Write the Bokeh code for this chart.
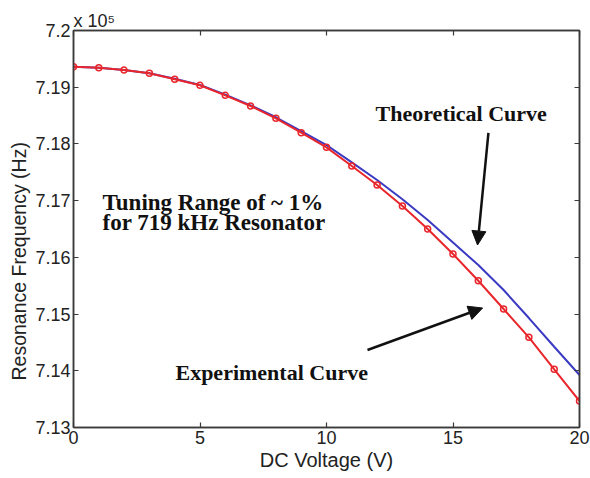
from bokeh.plotting import figure
from bokeh.models import (LinearAxis, FixedTicker, CustomJSTickFormatter, Label, Title,
                          Arrow, NormalHead, Range1d, ColumnDataSource)
from bokeh.embed import file_html
from bokeh.resources import INLINE

# Data (frequency in units of 1e5 Hz)
voltage = [0, 1, 2, 3, 4, 5, 6, 7, 8, 9, 10, 11, 12, 13, 14, 15, 16, 17, 18, 19, 20]
experimental = [7.19362, 7.19344, 7.19303, 7.19245, 7.19139, 7.19034, 7.18857, 7.18669,
                7.18452, 7.18198, 7.17940, 7.17611, 7.17276, 7.16905, 7.16500, 7.16059,
                7.15588, 7.15089, 7.14590, 7.14026, 7.13467]
theoretical = [7.19362, 7.19345, 7.19305, 7.19245, 7.19150, 7.19040, 7.18870, 7.18680,
               7.18470, 7.18225, 7.17981, 7.17675, 7.17364, 7.17024, 7.16658, 7.16260,
               7.15865, 7.15424, 7.14930, 7.14424, 7.13925]
x_ticks = [0, 5, 10, 15, 20]
y_ticks = [7.13, 7.14, 7.15, 7.16, 7.17, 7.18, 7.19, 7.2]

AX = "#3a3a3a"
RED = "#e8262b"
BLUE = "#3a3ac2"

p = figure(width=590, height=478, output_backend="svg", toolbar_location=None,
           x_range=Range1d(0, 20), y_range=Range1d(7.13, 7.2),
           min_border_left=73, min_border_right=11, min_border_top=30, min_border_bottom=51)
p.background_fill_color = "white"
p.border_fill_color = "white"
p.outline_line_color = AX
p.outline_line_width = 1.5
p.grid.visible = False

p.title = Title(text="x 10\u2075", align="left", offset=0, standoff=0,
                text_font="Liberation Sans", text_font_size="18px",
                text_font_style="normal", text_color="#222222")

src = ColumnDataSource(dict(v=voltage, e=experimental, t=theoretical))
p.line("v", "t", source=src, line_color=BLUE, line_width=2)
p.line("v", "e", source=src, line_color=RED, line_width=2)
p.scatter("v", "e", source=src, size=6, marker="circle", line_color=RED,
          fill_color=None, line_width=1.5)

fmt = CustomJSTickFormatter(code="return tick.toFixed(2).replace(/0$/, '');")
blank = CustomJSTickFormatter(code="return '';")

def style(ax, labels=True):
    ax.axis_line_color = AX
    ax.axis_line_width = 1.5
    ax.major_tick_line_color = AX
    ax.major_tick_line_width = 1.2
    ax.major_tick_in = 5
    ax.major_tick_out = 0
    ax.minor_tick_line_color = None
    ax.major_label_text_font = "Liberation Sans"
    ax.major_label_text_font_size = "18px"
    ax.major_label_text_color = "#222222"
    ax.axis_label_text_font = "Liberation Sans"
    ax.axis_label_text_font_style = "normal"
    ax.axis_label_text_color = "#222222"
    if not labels:
        ax.major_label_standoff = 0
        ax.formatter = blank

p.xaxis.ticker = FixedTicker(ticks=x_ticks)
p.yaxis.ticker = FixedTicker(ticks=y_ticks)
p.yaxis.formatter = fmt
p.xaxis.axis_label = "DC Voltage (V)"
style(p.xaxis[0])
style(p.yaxis[0])
p.xaxis.axis_label_text_font_size = "20px"
p.xaxis.major_label_standoff = 3
p.yaxis.major_label_standoff = 3
p.xaxis.axis_label_standoff = 2

# y axis title placed as a left-side title so it can sit slightly low, as in the reference
p.add_layout(Title(text="Resonance Frequency (Hz)", align="left", offset=47, standoff=6,
                   text_font="Liberation Sans", text_font_size="19.5px",
                   text_font_style="normal", text_color="#222222"), "left")

top = LinearAxis(ticker=FixedTicker(ticks=x_ticks), axis_label=None)
right = LinearAxis(ticker=FixedTicker(ticks=y_ticks), axis_label=None)
style(top, labels=False)
style(right, labels=False)
p.add_layout(top, "above")
p.add_layout(right, "right")

serif = "Liberation Serif"
for txt, x, y, fs in [("Theoretical Curve", 11.94, 7.18545, "22px"),
                      ("Tuning Range of ~ 1%", 1.15, 7.16976, "23px"),
                      ("for 719 kHz Resonator", 1.15, 7.16606, "23px"),
                      ("Experimental Curve", 4.03, 7.13961, "22px")]:
    p.add_layout(Label(x=x, y=y, text=txt, text_font=serif, text_font_style="bold",
                       text_font_size=fs, text_color="#111111", text_baseline="middle"))

for xs, ys, xe, ye in [(16.40, 7.18193, 15.97, 7.16218), (11.62, 7.14366, 16.17, 7.15107)]:
    p.add_layout(Arrow(x_start=xs, y_start=ys, x_end=xe, y_end=ye,
                       line_color="#111111", line_width=2.5,
                       end=NormalHead(size=14, fill_color="#111111", line_color="#111111")))

open("out.html", "w").write(file_html(p, INLINE))
